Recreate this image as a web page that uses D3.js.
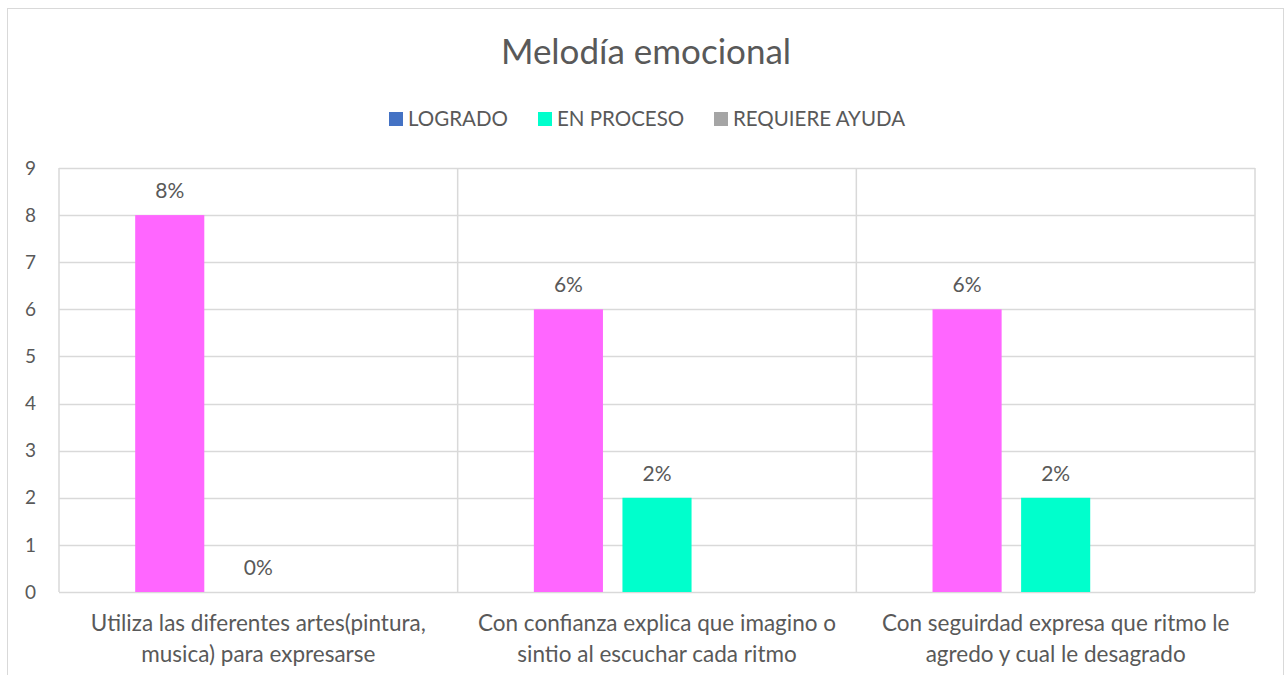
<!DOCTYPE html>
<html>
<head>
<meta charset="utf-8">
<script src="https://cdn.jsdelivr.net/npm/d3@7"></script>
<style>
  body { margin: 0; background: #fff; }
  text { font-family: Lato, "Open Sans", sans-serif; fill: #595959; }
</style>
</head>
<body>
<div class="canvas"></div>
<script>
// chart data
const categories = [
  ['Utiliza las diferentes artes(pintura,', 'musica) para expresarse'],
  ['Con confianza explica que imagino o', 'sintio al escuchar cada ritmo'],
  ['Con seguirdad expresa que ritmo le', 'agredo y cual le desagrado']
];
const seriesNames = ['LOGRADO', 'EN PROCESO', 'REQUIERE AYUDA'];
const legendColors = ['#4472c4', '#00ffcc', '#a5a5a5'];
const barColors = ['#ff66ff', '#00ffcc', '#a5a5a5'];
const logrado = [8, 6, 6];
const enProceso = [0, 2, 2];
const requiereAyuda = [null, null, null];
const yTicks = [0, 1, 2, 3, 4, 5, 6, 7, 8, 9];

const seriesValues = [logrado, enProceso, requiereAyuda];

const width = 1285, height = 675;
const margin = { left: 59, right: 30, top: 168, bottom: 83 };

const svg = d3.select('.canvas').append('svg')
    .attr('width', width)
    .attr('height', height);

// chart border
svg.append('rect')
    .attr('x', 7.5).attr('y', 8.5)
    .attr('width', 1276).attr('height', 700)
    .attr('fill', 'none')
    .attr('stroke', '#d9d9d9');

const x0 = d3.scaleBand()
    .domain(d3.range(categories.length))
    .range([margin.left, width - margin.right]);

const x1 = d3.scaleBand()
    .domain(d3.range(seriesNames.length))
    .range([0, x0.bandwidth()])
    .paddingInner(0.22)
    .paddingOuter(0.86);

const y = d3.scaleLinear()
    .domain([0, 9])
    .range([height - margin.bottom, margin.top]);

// horizontal grid lines
svg.append('g')
    .selectAll('line')
    .data(yTicks)
    .join('line')
    .attr('x1', margin.left)
    .attr('x2', width - margin.right)
    .attr('y1', d => Math.round(y(d)) + 0.5)
    .attr('y2', d => Math.round(y(d)) + 0.5)
    .attr('stroke', '#d9d9d9')
    .attr('stroke-width', 1.5);

// vertical category dividers
svg.append('g')
    .selectAll('line')
    .data(d3.range(categories.length + 1))
    .join('line')
    .attr('x1', d => d < categories.length ? x0(d) : width - margin.right)
    .attr('x2', d => d < categories.length ? x0(d) : width - margin.right)
    .attr('y1', y(9))
    .attr('y2', y(0))
    .attr('stroke', '#d9d9d9')
    .attr('stroke-width', 1.5);

// y tick labels
svg.append('g')
    .selectAll('text')
    .data(yTicks)
    .join('text')
    .attr('x', 36)
    .attr('y', d => y(d))
    .attr('dy', '0.35em')
    .attr('text-anchor', 'end')
    .style('font-size', '19px')
    .text(d => d);

// bars
const groups = svg.append('g')
    .selectAll('g')
    .data(categories.map((c, i) => i))
    .join('g')
    .attr('transform', i => `translate(${x0(i)},0)`);

groups.selectAll('rect')
    .data(i => seriesValues.map((s, k) => ({ k, v: s[i] })))
    .join('rect')
    .attr('x', d => x1(d.k))
    .attr('width', x1.bandwidth())
    .attr('y', d => y(d.v || 0))
    .attr('height', d => y(0) - y(d.v || 0))
    .attr('fill', d => barColors[d.k]);

groups.selectAll('text')
    .data(i => seriesValues.map((s, k) => ({ k, v: s[i] })).filter(d => d.v !== null))
    .join('text')
    .attr('x', d => x1(d.k) + x1.bandwidth() / 2)
    .attr('y', d => y(d.v) - 17)
    .attr('text-anchor', 'middle')
    .style('font-size', '21px')
    .text(d => d.v + '%');

// category labels
const catLabels = svg.append('g')
    .selectAll('text')
    .data(categories)
    .join('text')
    .attr('x', (d, i) => x0(i) + x0.bandwidth() / 2)
    .attr('y', 631)
    .attr('text-anchor', 'middle')
    .style('font-size', '22.5px');

catLabels.selectAll('tspan')
    .data(d => d)
    .join('tspan')
    .attr('x', function () { return this.parentNode.getAttribute('x'); })
    .attr('dy', (d, j) => j === 0 ? 0 : 31)
    .text(d => d);

// title
svg.append('text')
    .attr('x', 646)
    .attr('y', 64)
    .attr('text-anchor', 'middle')
    .style('font-size', '35px')
    .text('Melodía emocional');

// legend
const legendX = [389, 538, 714];
const legend = svg.append('g')
    .selectAll('g')
    .data(seriesNames)
    .join('g')
    .attr('transform', (d, i) => `translate(${legendX[i]},112)`);

legend.append('rect')
    .attr('width', 14).attr('height', 14)
    .attr('fill', (d, i) => legendColors[i]);

legend.append('text')
    .attr('x', 19)
    .attr('y', 7)
    .attr('dy', '0.36em')
    .style('font-size', '20.5px')
    .text(d => d);
</script>
</body>
</html>
